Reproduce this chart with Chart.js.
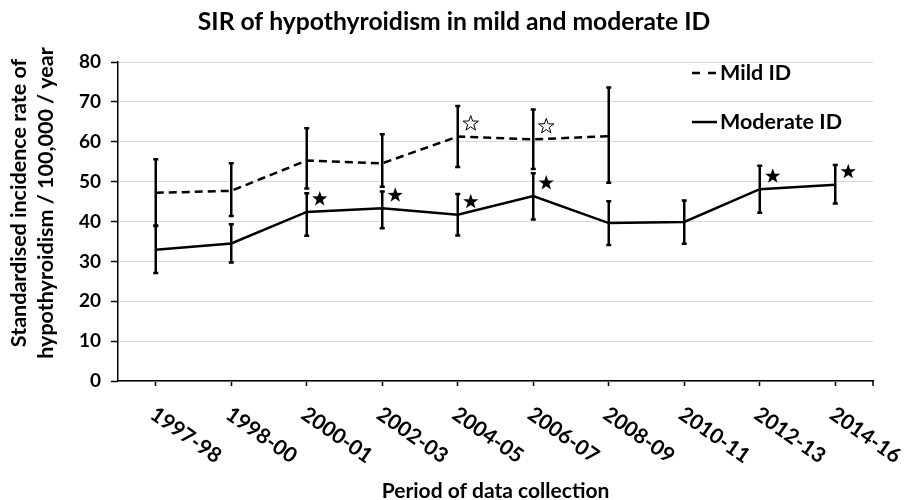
<!DOCTYPE html>
<html><head><meta charset="utf-8">
<script src="https://cdn.jsdelivr.net/npm/chart.js@4"></script>
<style>html,body{margin:0;padding:0;background:#fff;} #wrap{width:908px;height:500px;position:relative;}</style>
</head><body><div id="wrap"><canvas id="c" width="908" height="500" style="width:908px;height:500px"></canvas></div>
<script>
const categories = ['1997-98','1998-00','2000-01','2002-03','2004-05','2006-07','2008-09','2010-11','2012-13','2014-16'];
const mildValues = [47.2, 47.7, 55.3, 54.6, 61.3, 60.6, 61.4, null, null, null];
const mildLower  = [39.0, 41.4, 48.3, 48.7, 53.7, 53.2, 49.7, null, null, null];
const mildUpper  = [55.6, 54.6, 63.4, 61.9, 69.0, 68.1, 73.6, null, null, null];
const mildSignificant = [false, false, false, false, true, true, false, false, false, false];
const moderateValues = [32.9, 34.5, 42.4, 43.3, 41.7, 46.4, 39.6, 39.9, 48.1, 49.2];
const moderateLower  = [27.1, 29.7, 36.4, 38.3, 36.5, 40.5, 34.1, 34.4, 42.2, 44.5];
const moderateUpper  = [38.9, 39.3, 47.1, 47.5, 46.9, 52.1, 45.1, 45.3, 54.0, 54.2];
const moderateSignificant = [false, false, true, true, true, true, false, false, true, true];
const yTicks = [0, 10, 20, 30, 40, 50, 60, 70, 80];
const yTitleLines = ['Standardised incidence rate of', 'hypothyroidism / 100,000 / year'];

const FONT = 'Lato, "Open Sans", sans-serif';

function starPath(ctx, cx, cy, ro, ri) {
  ctx.beginPath();
  for (let k = 0; k < 10; k++) {
    const r = k % 2 === 0 ? ro : ri;
    const a = -Math.PI / 2 + k * Math.PI / 5;
    const px = cx + r * Math.cos(a), py = cy + r * Math.sin(a);
    if (k === 0) ctx.moveTo(px, py); else ctx.lineTo(px, py);
  }
  ctx.closePath();
}

const extrasPlugin = {
  id: 'extras',
  afterDatasetsDraw(chart) {
    const ctx = chart.ctx, ys = chart.scales.y;
    chart.data.datasets.forEach((ds, i) => {
      const meta = chart.getDatasetMeta(i);
      ctx.save();
      ctx.strokeStyle = '#000';
      ctx.lineWidth = 2.5;
      ctx.setLineDash([]);
      meta.data.forEach((pt, j) => {
        const lo = ds.errLow[j], hi = ds.errHigh[j];
        if (lo == null || hi == null) return;
        const x = pt.x, yl = ys.getPixelForValue(lo), yh = ys.getPixelForValue(hi);
        ctx.beginPath();
        ctx.moveTo(x, yl); ctx.lineTo(x, yh);
        ctx.moveTo(x - 2.5, yl); ctx.lineTo(x + 2.5, yl);
        ctx.moveTo(x - 2.5, yh); ctx.lineTo(x + 2.5, yh);
        ctx.stroke();
      });
      meta.data.forEach((pt, j) => {
        if (!ds.sig[j]) return;
        const cx = pt.x + 13, cy = pt.y - 13;
        starPath(ctx, cx, cy, 8, 3.2);
        if (ds.starFilled) { ctx.fillStyle = '#000'; ctx.fill(); }
        else { ctx.fillStyle = '#fff'; ctx.fill(); ctx.lineWidth = 1; ctx.stroke(); }
      });
      ctx.restore();
    });
  },
  afterDraw(chart) {
    const ctx = chart.ctx, xs = chart.scales.x, area = chart.chartArea;
    ctx.save();
    ctx.fillStyle = '#000';
    // end tick of the category axis
    ctx.strokeStyle = '#000';
    ctx.lineWidth = 1.5;
    ctx.beginPath();
    ctx.moveTo(area.right, area.bottom); ctx.lineTo(area.right, area.bottom + 5);
    ctx.stroke();
    // rotated category labels
    ctx.font = 'bold 21px ' + FONT;
    ctx.textAlign = 'left';
    ctx.textBaseline = 'middle';
    categories.forEach((c, j) => {
      const x = xs.getPixelForValue(j);
      ctx.save();
      ctx.translate(x - 3, area.bottom + 31);
      ctx.rotate(35 * Math.PI / 180);
      ctx.fillText(c, 0, 0);
      ctx.restore();
    });
    // y axis title
    ctx.font = 'bold 21.5px ' + FONT;
    ctx.textAlign = 'center';
    yTitleLines.forEach((t, k) => {
      ctx.save();
      ctx.translate(19.5 + k * 27, 203);
      ctx.rotate(-Math.PI / 2);
      ctx.fillText(t, 0, 0);
      ctx.restore();
    });
    // legend
    const lx = area.right - 181;
    const items = [
      { label: 'Mild ID', dash: [8, 8], y: area.top + 11 },
      { label: 'Moderate ID', dash: [], y: area.top + 60 }
    ];
    ctx.font = 'bold 21.5px ' + FONT;
    ctx.textAlign = 'left';
    items.forEach(it => {
      ctx.beginPath();
      ctx.setLineDash(it.dash);
      ctx.lineWidth = 2.5;
      ctx.strokeStyle = '#000';
      ctx.moveTo(lx, it.y); ctx.lineTo(lx + 25, it.y);
      ctx.stroke();
      ctx.setLineDash([]);
      ctx.fillText(it.label, lx + 28, it.y);
    });
    ctx.restore();
  }
};

new Chart(document.getElementById('c'), {
  type: 'line',
  data: {
    labels: categories,
    datasets: [
      { label: 'Mild ID', data: mildValues, errLow: mildLower, errHigh: mildUpper, sig: mildSignificant, starFilled: false,
        borderColor: '#000', borderWidth: 2.5, borderDash: [8, 5], pointRadius: 0, fill: false, tension: 0 },
      { label: 'Moderate ID', data: moderateValues, errLow: moderateLower, errHigh: moderateUpper, sig: moderateSignificant, starFilled: true,
        borderColor: '#000', borderWidth: 2.5, pointRadius: 0, fill: false, tension: 0 }
    ]
  },
  options: {
    responsive: false,
    animation: false,
    devicePixelRatio: 1,
    layout: { padding: { top: 0, right: 0, bottom: 0, left: 0 } },
    plugins: {
      legend: { display: false },
      tooltip: { enabled: false },
      title: {
        display: true,
        text: 'SIR of hypothyroidism in mild and moderate ID',
        color: '#000',
        font: { family: FONT, size: 24.7, weight: 'bold', lineHeight: 1.2 },
        padding: { top: 7, bottom: 25.4 }
      }
    },
    scales: {
      x: {
        offset: true,
        grid: { display: true, drawOnChartArea: false, drawTicks: true, tickLength: 5, tickColor: '#000', tickWidth: 1.5, offset: false },
        border: { display: true, color: '#000', width: 1.5 },
        ticks: { display: false },
        title: { display: true, text: 'Period of data collection', color: '#000',
                 font: { family: FONT, size: 21, weight: 'bold', lineHeight: 0.85 }, padding: { top: 0, bottom: 0 } },
        afterFit(s) { s.height = 119; }
      },
      y: {
        min: 0, max: 80,
        afterBuildTicks(s) { s.ticks = yTicks.map(v => ({ value: v })); },
        grid: { color: '#d9d9d9', lineWidth: 1, tickLength: 7, tickColor: '#000', tickWidth: 1.5 },
        border: { display: true, color: '#000', width: 1.5 },
        ticks: { color: '#000', padding: 10, font: { family: FONT, size: 19, weight: 'bold' } },
        title: { display: false },
        afterFit(s) { s.width = 118; }
      },
      rightSpace: {
        position: 'right',
        display: true,
        min: 0, max: 80,
        grid: { display: false, drawOnChartArea: false, drawTicks: false },
        border: { display: false },
        ticks: { display: false },
        afterFit(s) { s.width = 35; }
      }
    }
  },
  plugins: [extrasPlugin]
});
</script></body></html>
